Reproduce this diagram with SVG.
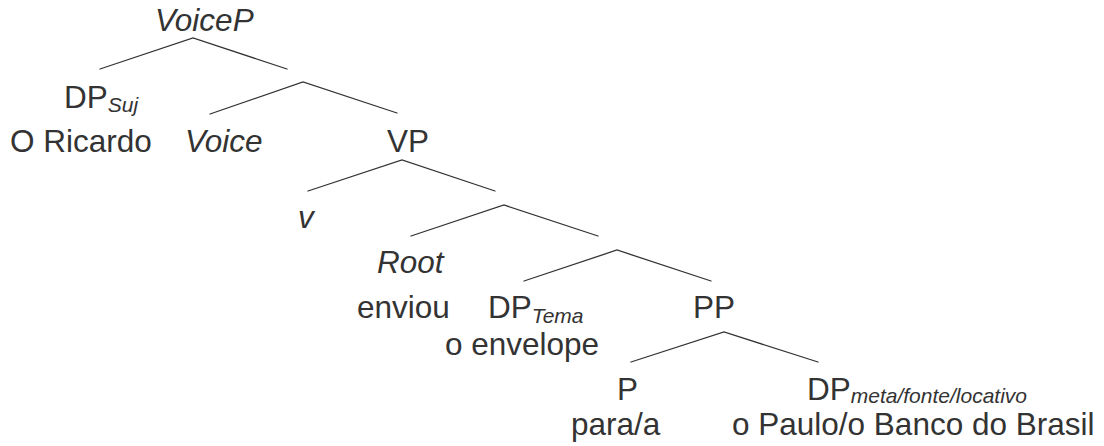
<svg xmlns="http://www.w3.org/2000/svg" width="1104" height="446" viewBox="0 0 1104 446">
  <style>
    .lbl { font-family: "Liberation Sans", Arial, Helvetica, sans-serif; font-size: 31.5px; fill: #333; }
    .it { font-style: italic; }
    .sub { font-size: 21px; font-style: italic; }
    .branch { fill: none; stroke: #333; stroke-width: 1.3; stroke-linecap: round; stroke-linejoin: miter; }
  </style>
  <rect width="1104" height="446" fill="#fff"/>

  <!-- branches of the tree -->
  <g id="connectors">
    <polyline class="branch" points="100,69 193,38 287,69"/>
    <polyline class="branch" points="210,114 303,82 397,113"/>
    <polyline class="branch" points="308,191 402,160 495,191"/>
    <polyline class="branch" points="411,236 504,205 598,236"/>
    <polyline class="branch" points="524,281 617,250 711,281"/>
    <polyline class="branch" points="631,362 724,332 818,362"/>
  </g>

  <g id="voiceP"><text class="lbl it" x="155" y="31">VoiceP</text></g>
  <g id="dp-suj">
    <text class="lbl" x="64" y="108">DP<tspan class="sub" dy="4">Suj</tspan></text>
    <text class="lbl" x="10" y="152">O Ricardo</text>
  </g>
  <g id="voice"><text class="lbl it" x="185" y="152">Voice</text></g>
  <g id="vP"><text class="lbl" x="387" y="152">VP</text></g>
  <g id="v-head"><text class="lbl it" x="298" y="228">v</text></g>
  <g id="root">
    <text class="lbl it" x="377" y="273">Root</text>
    <text class="lbl" x="357" y="318">enviou</text>
  </g>
  <g id="dp-tema">
    <text class="lbl" x="488" y="318">DP<tspan class="sub" dy="5">Tema</tspan></text>
    <text class="lbl" x="445" y="355">o envelope</text>
  </g>
  <g id="pP"><text class="lbl" x="693" y="318">PP</text></g>
  <g id="p-head">
    <text class="lbl" x="617" y="400">P</text>
    <text class="lbl" x="571" y="435">para/a</text>
  </g>
  <g id="dp-meta">
    <text class="lbl" x="807" y="400">DP<tspan class="sub" dy="3">meta/fonte/locativo</tspan></text>
    <text class="lbl" x="732" y="435">o Paulo/o Banco do Brasil</text>
  </g>
</svg>
